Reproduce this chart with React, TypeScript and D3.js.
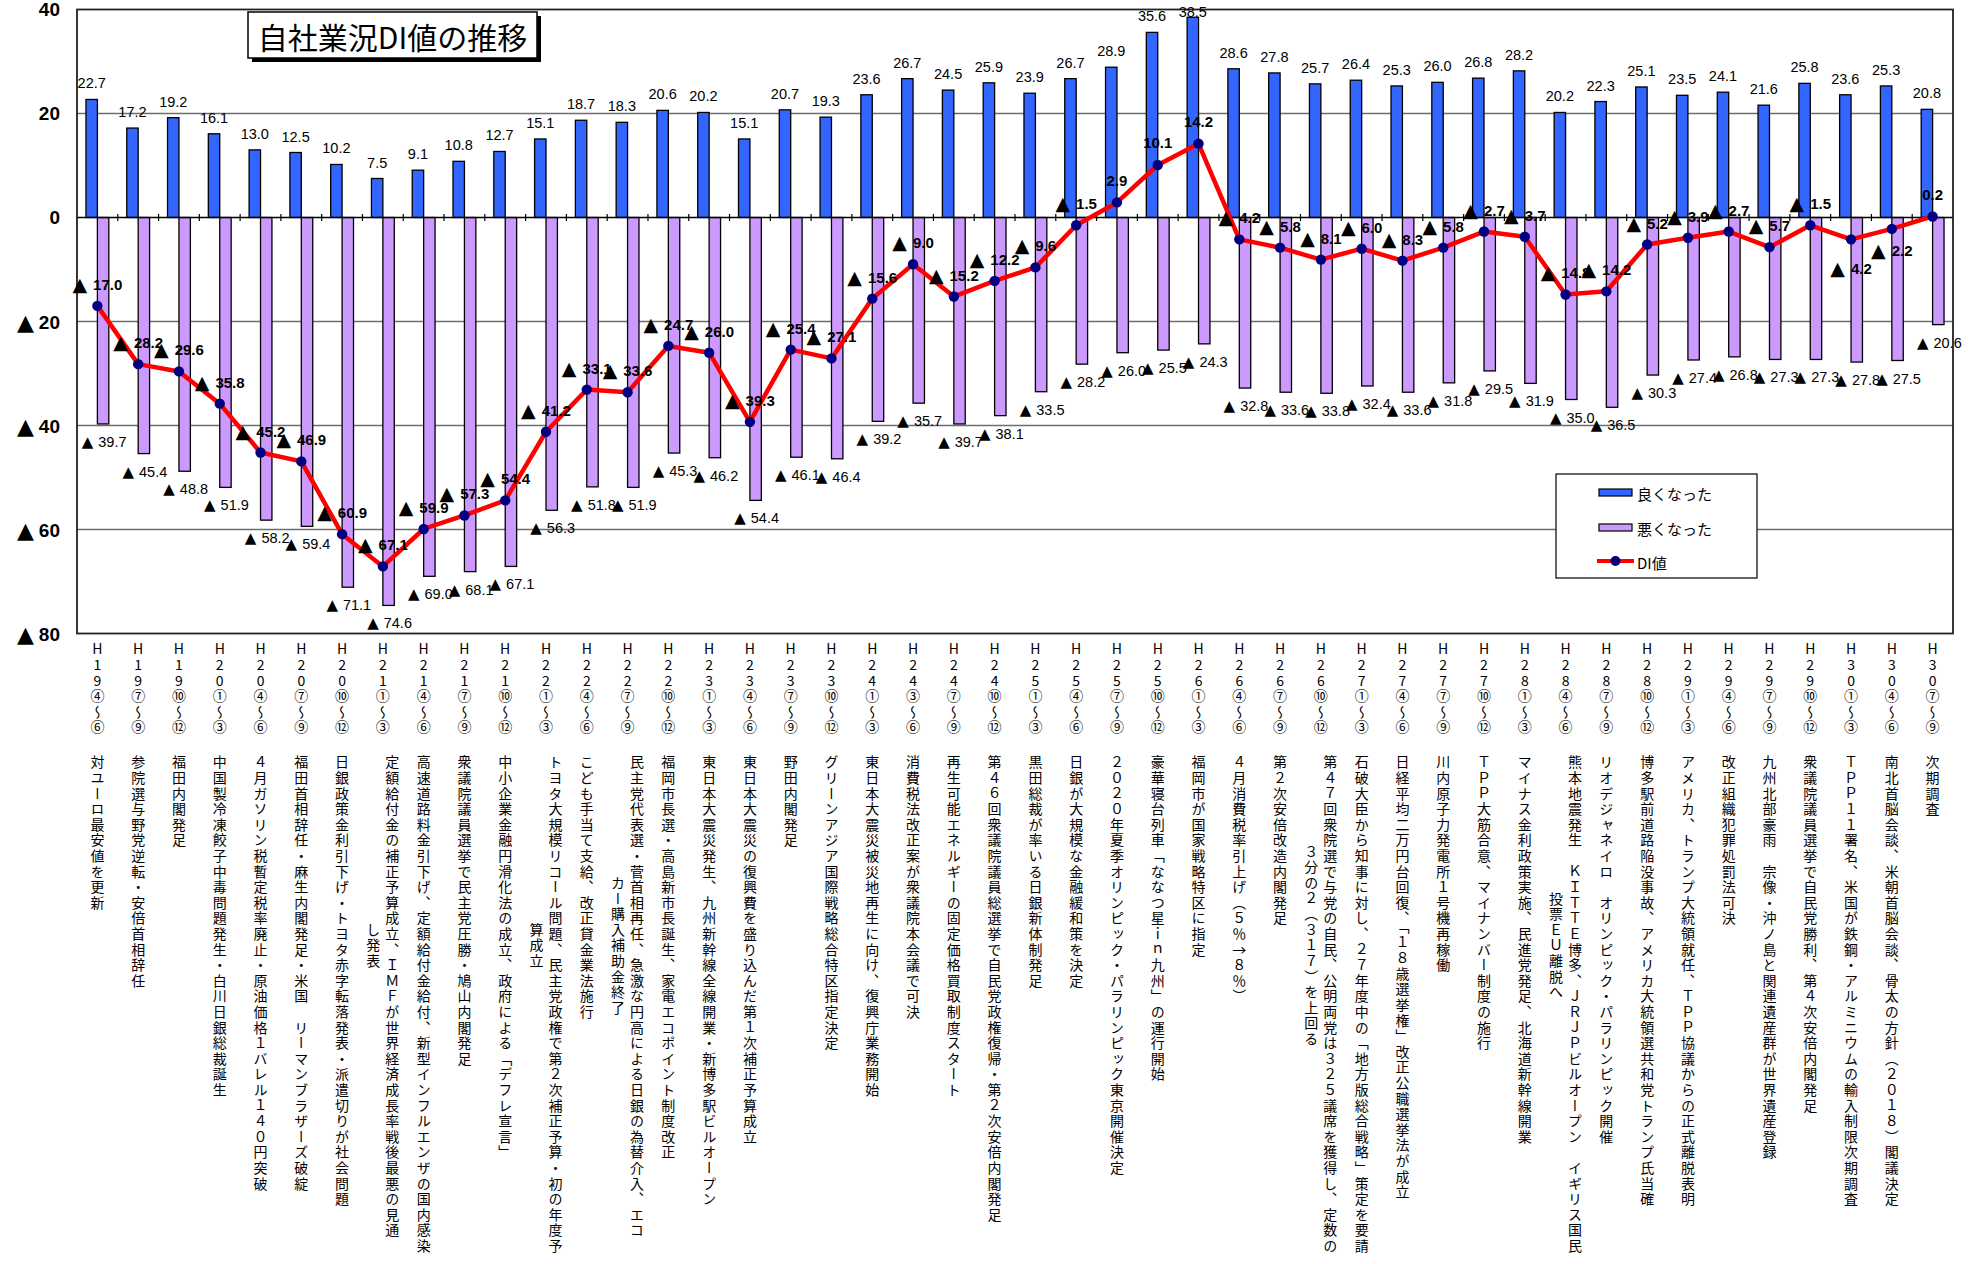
import React from "react";
import * as d3 from "d3";

const periods: string[] = [
  "H19④～⑥", "H19⑦～⑨", "H19⑩～⑫",
  "H20①～③", "H20④～⑥", "H20⑦～⑨", "H20⑩～⑫",
  "H21①～③", "H21④～⑥", "H21⑦～⑨", "H21⑩～⑫",
  "H22①～③", "H22④～⑥", "H22⑦～⑨", "H22⑩～⑫",
  "H23①～③", "H23④～⑥", "H23⑦～⑨", "H23⑩～⑫",
  "H24①～③", "H24③～⑥", "H24⑦～⑨", "H24⑩～⑫",
  "H25①～③", "H25④～⑥", "H25⑦～⑨", "H25⑩～⑫",
  "H26①～③", "H26④～⑥", "H26⑦～⑨", "H26⑩～⑫",
  "H27①～③", "H27④～⑥", "H27⑦～⑨", "H27⑩～⑫",
  "H28①～③", "H28④～⑥", "H28⑦～⑨", "H28⑩～⑫",
  "H29①～③", "H29④～⑥", "H29⑦～⑨", "H29⑩～⑫",
  "H30①～③", "H30④～⑥", "H30⑦～⑨",
];

// 良くなった
const goodValues: number[] = [
  22.7, 17.2, 19.2, 16.1, 13.0, 12.5, 10.2, 7.5, 9.1, 10.8, 12.7, 15.1, 18.7, 18.3, 20.6, 20.2,
  15.1, 20.7, 19.3, 23.6, 26.7, 24.5, 25.9, 23.9, 26.7, 28.9, 35.6, 38.5, 28.6, 27.8, 25.7, 26.4,
  25.3, 26.0, 26.8, 28.2, 20.2, 22.3, 25.1, 23.5, 24.1, 21.6, 25.8, 23.6, 25.3, 20.8,
];

// 悪くなった (negative)
const badValues: number[] = [
  -39.7, -45.4, -48.8, -51.9, -58.2, -59.4, -71.1, -74.6, -69.0, -68.1, -67.1, -56.3, -51.8, -51.9,
  -45.3, -46.2, -54.4, -46.1, -46.4, -39.2, -35.7, -39.7, -38.1, -33.5, -28.2, -26.0, -25.5, -24.3,
  -32.8, -33.6, -33.8, -32.4, -33.6, -31.8, -29.5, -31.9, -35.0, -36.5, -30.3, -27.4, -26.8, -27.3,
  -27.3, -27.8, -27.5, -20.6,
];

// DI値
const diValues: number[] = [
  -17.0, -28.2, -29.6, -35.8, -45.2, -46.9, -60.9, -67.1, -59.9, -57.3, -54.4, -41.2, -33.1, -33.6,
  -24.7, -26.0, -39.3, -25.4, -27.1, -15.6, -9.0, -15.2, -12.2, -9.6, -1.5, 2.9, 10.1, 14.2, -4.2,
  -5.8, -8.1, -6.0, -8.3, -5.8, -2.7, -3.7, -14.8, -14.2, -5.2, -3.9, -2.7, -5.7, -1.5, -4.2, -2.2,
  0.2,
];

// events (columns of vertical text)
const events: string[][] = [
  ["対ユーロ最安値を更新"],
  ["参院選与野党逆転・安倍首相辞任"],
  ["福田内閣発足"],
  ["中国製冷凍餃子中毒問題発生・白川日銀総裁誕生"],
  ["４月ガソリン税暫定税率廃止・原油価格１バレル１４０円突破"],
  ["福田首相辞任・麻生内閣発足・米国　リーマンブラザーズ破綻"],
  ["日銀政策金利引下げ・トヨタ赤字転落発表・派遣切りが社会問題"],
  ["定額給付金の補正予算成立、ＩＭＦが世界経済成長率戦後最悪の見通", "し発表"],
  ["高速道路料金引下げ、定額給付金給付、新型インフルエンザの国内感染"],
  ["衆議院議員選挙で民主党圧勝・鳩山内閣発足"],
  ["中小企業金融円滑化法の成立、政府による「デフレ宣言」"],
  ["トヨタ大規模リコール問題、民主党政権で第２次補正予算・初の年度予", "算成立"],
  ["こども手当て支給、改正貸金業法施行"],
  ["民主党代表選・菅首相再任、急激な円高による日銀の為替介入、エコ", "カー購入補助金終了"],
  ["福岡市長選・高島新市長誕生、家電エコポイント制度改正"],
  ["東日本大震災発生、九州新幹線全線開業・新博多駅ビルオープン"],
  ["東日本大震災の復興費を盛り込んだ第１次補正予算成立"],
  ["野田内閣発足"],
  ["グリーンアジア国際戦略総合特区指定決定"],
  ["東日本大震災被災地再生に向け、復興庁業務開始"],
  ["消費税法改正案が衆議院本会議で可決"],
  ["再生可能エネルギーの固定価格買取制度スタート"],
  ["第４６回衆議院議員総選挙で自民党政権復帰・第２次安倍内閣発足"],
  ["黒田総裁が率いる日銀新体制発足"],
  ["日銀が大規模な金融緩和策を決定"],
  ["２０２０年夏季オリンピック・パラリンピック東京開催決定"],
  ["豪華寝台列車「ななつ星ｉｎ九州」の運行開始"],
  ["福岡市が国家戦略特区に指定"],
  ["４月消費税率引上げ（５％→８％）"],
  ["第２次安倍改造内閣発足"],
  ["第４７回衆院選で与党の自民、公明両党は３２５議席を獲得し、定数の", "３分の２（３１７）を上回る"],
  ["石破大臣から知事に対し、２７年度中の「地方版総合戦略」策定を要請"],
  ["日経平均二万円台回復、「１８歳選挙権」改正公職選挙法が成立"],
  ["川内原子力発電所１号機再稼働"],
  ["ＴＰＰ大筋合意、マイナンバー制度の施行"],
  ["マイナス金利政策実施、民進党発足、北海道新幹線開業"],
  ["熊本地震発生　ＫＩＴＴＥ博多、ＪＲＪＰビルオープン　イギリス国民", "投票ＥＵ離脱へ"],
  ["リオデジャネイロ　オリンピック・パラリンピック開催"],
  ["博多駅前道路陥没事故、アメリカ大統領選共和党トランプ氏当確"],
  ["アメリカ、トランプ大統領就任、ＴＰＰ協議からの正式離脱表明"],
  ["改正組織犯罪処罰法可決"],
  ["九州北部豪雨　宗像・沖ノ島と関連遺産群が世界遺産登録"],
  ["衆議院議員選挙で自民党勝利、第４次安倍内閣発足"],
  ["ＴＰＰ１１署名、米国が鉄鋼・アルミニウムの輸入制限次期調査"],
  ["南北首脳会談、米朝首脳会談、骨太の方針（２０１８）閣議決定"],
  ["次期調査"],
];

const yTickValues: number[] = [40, 20, 0, -20, -40, -60, -80];
const gridValues: number[] = [20, -20, -40, -60];

const title = "自社業況DI値の推移";
const legendLabels: string[] = ["良くなった", "悪くなった", "DI値"];

const BLUE = "#3366FF";
const PURPLE = "#CC99FF";
const RED = "#FF0000";
const NAVY = "#000080";
const NUM_FONT = "'Liberation Sans', Arial, sans-serif";
const JP_FONT = "'Noto Sans CJK JP', 'Noto Sans', sans-serif";
const TRI_FONT = "'DejaVu Sans', sans-serif";

const fmt = (v: number) => Math.abs(v).toFixed(1);

// DI labels placed below their point
const diBelow: Record<number, number> = { 43: 29, 44: 21 };

export default function App() {
  const W = 1975;
  const H = 1264;
  const left = 77;
  const right = 1953;
  const x = d3.scaleBand<string>().domain(periods).range([left, right]).paddingInner(0).paddingOuter(0);
  const y = d3.scaleLinear().domain([-80, 40]).range([633.5, 9.5]);
  const bw = x.bandwidth();
  const barW = bw * 0.28;
  const cx = (i: number) => (x(periods[i]) as number) + bw / 2;

  const linePath = d3
    .line<number>()
    .x((_, i) => cx(i))
    .y((d) => y(d))(diValues) as string;

  const vStyle: React.CSSProperties = {
    writingMode: "vertical-rl" as any,
    textOrientation: "upright" as any,
  };
  const vFont = 14;
  const vSpace = 1.6;
  const step = vFont + vSpace;

  return (
    <div style={{ position: "absolute", left: 0, top: 0 }}>
      <svg width={W} height={H} viewBox={`0 0 ${W} ${H}`} style={{ display: "block", background: "#fff" }}>
        {/* gridlines */}
        {gridValues.map((g) => (
          <line key={"g" + g} x1={left} x2={right} y1={y(g)} y2={y(g)} stroke="#6e6e6e" strokeWidth={1.3} />
        ))}

        {/* bars */}
        {goodValues.map((v, i) => (
          <rect
            key={"gb" + i}
            x={cx(i) - barW}
            y={y(v)}
            width={barW}
            height={y(0) - y(v)}
            fill={BLUE}
            stroke="#000"
            strokeWidth={1.3}
          />
        ))}
        {badValues.map((v, i) => (
          <rect
            key={"bb" + i}
            x={cx(i)}
            y={y(0)}
            width={barW}
            height={y(v) - y(0)}
            fill={PURPLE}
            stroke="#000"
            strokeWidth={1.3}
          />
        ))}

        {/* zero axis with ticks */}
        <line x1={left} x2={right} y1={y(0)} y2={y(0)} stroke="#000" strokeWidth={1.5} />
        {periods.slice(1).map((p) => (
          <line key={"t" + p} x1={x(p) as number} x2={x(p) as number} y1={y(0) - 3.5} y2={y(0) + 3.5} stroke="#000" strokeWidth={1.2} />
        ))}

        {/* plot frame */}
        <rect x={left} y={y(40)} width={right - left} height={y(-80) - y(40)} fill="none" stroke="#222" strokeWidth={1.8} />

        {/* y-axis labels */}
        {yTickValues.map((v) => (
          <text
            key={"yl" + v}
            x={60}
            y={y(v)}
            textAnchor="end"
            dominantBaseline="central"
            fontFamily={NUM_FONT}
            fontWeight="bold"
            fontSize={19}
            fill="#000"
          >
            {v < 0 ? (
              <>
                <tspan fontFamily={TRI_FONT} fontSize={22}>▲</tspan>
                <tspan dx={5}>{Math.abs(v)}</tspan>
              </>
            ) : (
              String(v)
            )}
          </text>
        ))}

        {/* DI line */}
        <path d={linePath} fill="none" stroke={RED} strokeWidth={4.5} strokeLinejoin="round" />
        {diValues.map((v, i) => (
          <circle key={"m" + i} cx={cx(i)} cy={y(v)} r={5.2} fill={NAVY} />
        ))}

        {/* good labels */}
        {goodValues.map((v, i) => (
          <text
            key={"gl" + i}
            x={cx(i) - barW / 2}
            y={Math.max(y(v) - 16, 12)}
            textAnchor="middle"
            dominantBaseline="central"
            fontFamily={NUM_FONT}
            fontSize={14.5}
            fill="#000"
          >
            {v.toFixed(1)}
          </text>
        ))}

        {/* bad labels */}
        {badValues.map((v, i) => (
          <text
            key={"bl" + i}
            x={cx(i) + barW / 2 + 1}
            y={y(v) + 18}
            textAnchor="middle"
            dominantBaseline="central"
            fontFamily={NUM_FONT}
            fontSize={14.5}
            fill="#000"
          >
            <tspan fontFamily={TRI_FONT} fontSize={15}>▲</tspan>
            <tspan dx={5}>{fmt(v)}</tspan>
          </text>
        ))}

        {/* DI labels */}
        {diValues.map((v, i) => {
          const off = diBelow[i] !== undefined ? diBelow[i] : -22;
          return (
            <text
              key={"dl" + i}
              x={cx(i)}
              y={y(v) + off}
              textAnchor="middle"
              dominantBaseline="central"
              fontFamily={NUM_FONT}
              fontWeight="bold"
              fontSize={15}
              fill="#000"
            >
              {v < 0 ? (
                <>
                  <tspan fontFamily={TRI_FONT} fontSize={19}>▲</tspan>
                  <tspan dx={6}>{fmt(v)}</tspan>
                </>
              ) : (
                v.toFixed(1)
              )}
            </text>
          );
        })}

        {/* legend */}
        <g>
          <rect x={1556} y={474} width={201} height={104} fill="#fff" stroke="#000" strokeWidth={1.2} />
          <rect x={1599} y={489} width={33} height={7} fill={BLUE} stroke="#000" strokeWidth={1.2} />
          <text x={1637} y={493} dominantBaseline="central" fontFamily={JP_FONT} fontSize={15} fill="#000">
            {legendLabels[0]}
          </text>
          <rect x={1599} y={524} width={33} height={7} fill={PURPLE} stroke="#000" strokeWidth={1.2} />
          <text x={1637} y={528} dominantBaseline="central" fontFamily={JP_FONT} fontSize={15} fill="#000">
            {legendLabels[1]}
          </text>
          <line x1={1597} x2={1634} y1={561} y2={561} stroke={RED} strokeWidth={4} />
          <circle cx={1615.5} cy={561} r={5} fill={NAVY} />
          <text x={1637} y={562} dominantBaseline="central" fontFamily={JP_FONT} fontSize={15} fill="#000">
            {legendLabels[2]}
          </text>
        </g>

        {/* title */}
        <g>
          <rect x={252} y={16} width={289} height={46} fill="#000" />
          <rect x={248} y={12} width={289} height={46} fill="#fff" stroke="#000" strokeWidth={1.5} />
          <text x={392.5} y={36} textAnchor="middle" dominantBaseline="central" fontFamily={JP_FONT} fontSize={30} fill="#000">
            {title}
          </text>
        </g>

        {/* period labels (vertical) */}
        {periods.map((p, i) => (
          <text
            key={"pl" + i}
            x={cx(i)}
            y={642}
            style={vStyle}
            fontFamily={JP_FONT}
            fontSize={vFont}
            letterSpacing={vSpace}
            fill="#000"
          >
            {p}
          </text>
        ))}

        {/* event labels (vertical) */}
        {events.map((cols, i) =>
          cols.map((c, j) => {
            const two = cols.length > 1;
            const xx = two ? cx(i) + (j === 0 ? 9.5 : -9.5) : cx(i);
            const yy = j === 0 ? 755 : 945 - (c.length * step - vSpace) / 2;
            return (
              <text
                key={"ev" + i + "_" + j}
                x={xx}
                y={yy}
                style={vStyle}
                fontFamily={JP_FONT}
                fontSize={vFont}
                letterSpacing={vSpace}
                fill="#000"
              >
                {c}
              </text>
            );
          })
        )}
      </svg>
    </div>
  );
}
